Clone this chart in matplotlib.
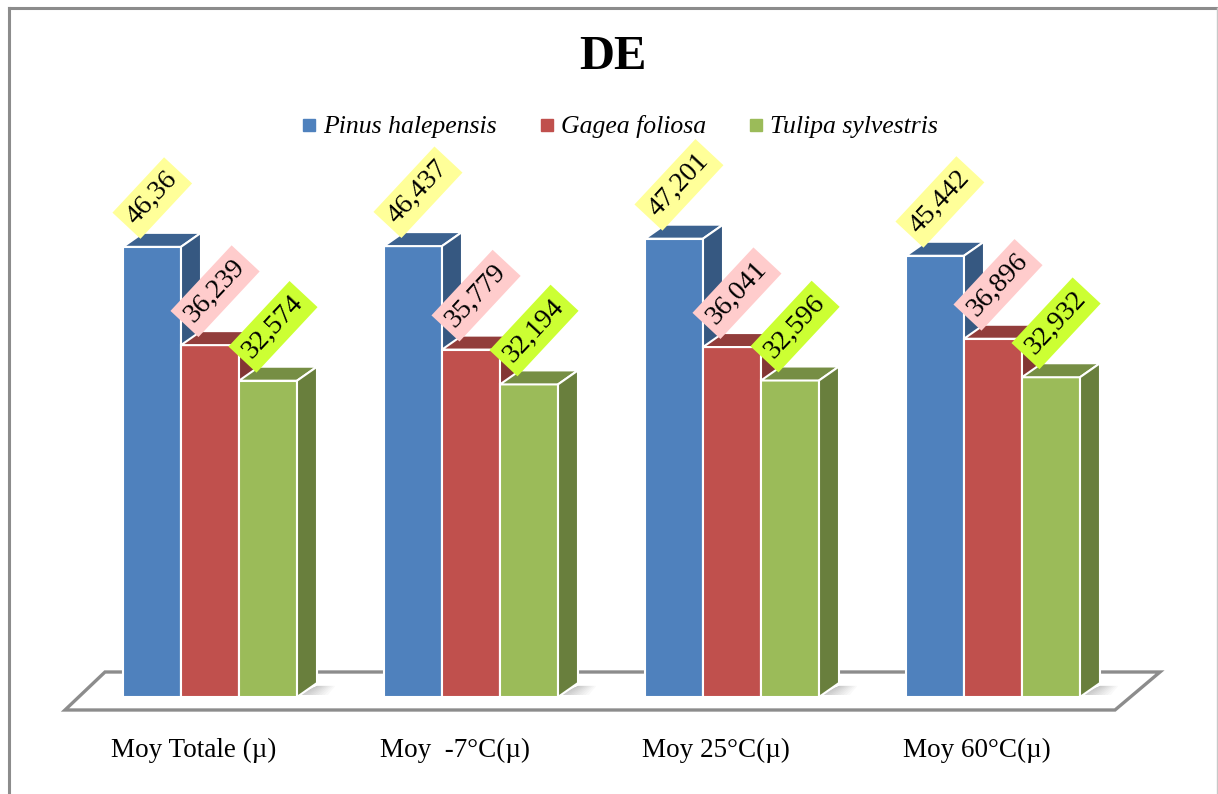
import numpy as np
import matplotlib
matplotlib.use('Agg')
import matplotlib.pyplot as plt
from matplotlib.patches import Polygon
from matplotlib.lines import Line2D
from matplotlib.colors import to_rgb

plt.rcParams['font.family'] = 'Liberation Serif'

categories = ['Moy Totale (µ)', 'Moy  -7°C(µ)', 'Moy 25°C(µ)', 'Moy 60°C(µ)']
species = ['Pinus halepensis', 'Gagea foliosa', 'Tulipa sylvestris']
pinus = [46.36, 46.437, 47.201, 45.442]
gagea = [36.239, 35.779, 36.041, 36.896]
tulipa = [32.574, 32.194, 32.596, 32.932]
series = [pinus, gagea, tulipa]

colors = ['#4F81BD', '#C0504D', '#9BBB59']
label_bg = ['#FFFF99', '#FFCCCC', '#CCFF33']

W, H = 1218, 794
fig = plt.figure(figsize=(W / 100, H / 100), dpi=100)
ax = fig.add_axes([0, 0, 1, 1])
# pixel-calibrated axes: group spacing 261 px, 9.71 px per unit
px_x = 261.0
px_y = 9.71
x0_px, y0_px = 210, 697
ax.set_xlim(-x0_px / px_x, (W - x0_px) / px_x)
ax.set_ylim(-(H - y0_px) / px_y, y0_px / px_y)
ax.axis('off')

def dk(c, f):
    r, g, b = to_rgb(c)
    return (r * f, g * f, b * f)

bw = 58 / px_x
ddx = 20 / px_x   # depth
ddy = 14 / px_y

# outer frame
fig.add_artist(Line2D([9 / W, 9 / W], [0, 1 - 8 / H], color='#8C8C8C', lw=2.2))
fig.add_artist(Line2D([9 / W, 1 - 1 / W], [1 - 8 / H, 1 - 8 / H], color='#8C8C8C', lw=2.2))
fig.add_artist(Line2D([1 - 1.5 / W, 1 - 1.5 / W], [0, 1 - 8 / H], color='#C8C8C8', lw=1))

# floor
fl = [((65 - x0_px) / px_x, (y0_px - 710) / px_y),
      ((105 - x0_px) / px_x, (y0_px - 672) / px_y),
      ((1160 - x0_px) / px_x, (y0_px - 672) / px_y),
      ((1115 - x0_px) / px_x, (y0_px - 710) / px_y)]
ax.add_patch(Polygon(fl, closed=True, facecolor='white', edgecolor='#8C8C8C', lw=2.4, zorder=1))

for i in range(len(categories)):
    # soft shadow at right of group
    xr = i + 1.5 * bw + ddx
    for k in range(10):
        w = 0.01 + k * 0.012
        ax.add_patch(Polygon([(xr - ddx, 0.2), (xr - ddx + w, 0.2),
                              (xr + w * 0.6, ddy * 0.8), (xr, ddy * 0.8)],
                             closed=True, facecolor='#000000', alpha=0.025, lw=0, zorder=1.5))
    for j, vals in enumerate(series):
        v = vals[i]
        xl = i + (j - 1) * bw - bw / 2
        c = colors[j]
        z = 2 + j * 0.1
        ax.bar(xl, v, width=bw, align='edge', color=c, edgecolor='white', lw=1.5, zorder=z)
        top = [(xl, v), (xl + ddx, v + ddy), (xl + bw + ddx, v + ddy), (xl + bw, v)]
        ax.add_patch(Polygon(top, closed=True, facecolor=dk(c, 0.76), edgecolor='white', lw=1.5, zorder=z))
        side = [(xl + bw, 0), (xl + bw + ddx, ddy), (xl + bw + ddx, v + ddy), (xl + bw, v)]
        ax.add_patch(Polygon(side, closed=True, facecolor=dk(c, 0.68), edgecolor='white', lw=1.5, zorder=z))
        lab = ('%g' % v).replace('.', ',')
        ax.text(xl + bw / 2 - 21 / px_x, v + 26 / px_y, lab, rotation=47, rotation_mode='anchor',
                ha='left', va='center', fontsize=20, color='black', zorder=10,
                bbox=dict(boxstyle='square,pad=0.24', facecolor=label_bg[j], edgecolor='none'))
    ax.text(i - 16 / px_x, -(750 - y0_px) / px_y, categories[i], ha='center', va='center',
            fontsize=19.5, color='black')

fig.text(613 / W, 1 - 57 / H, 'DE', ha='center', va='center', fontsize=35, fontweight='bold')

handles = [Line2D([], [], marker='s', linestyle='none', color=c, markersize=8) for c in colors]
leg = fig.legend(handles, species, loc='center', bbox_to_anchor=(619 / W, 1 - 127 / H), ncol=3,
                 frameon=False, handlelength=0.7, handletextpad=0.2, columnspacing=1.6,
                 prop={'family': 'Liberation Serif', 'style': 'italic', 'size': 18.5})

fig.savefig('out.png', dpi=100)
